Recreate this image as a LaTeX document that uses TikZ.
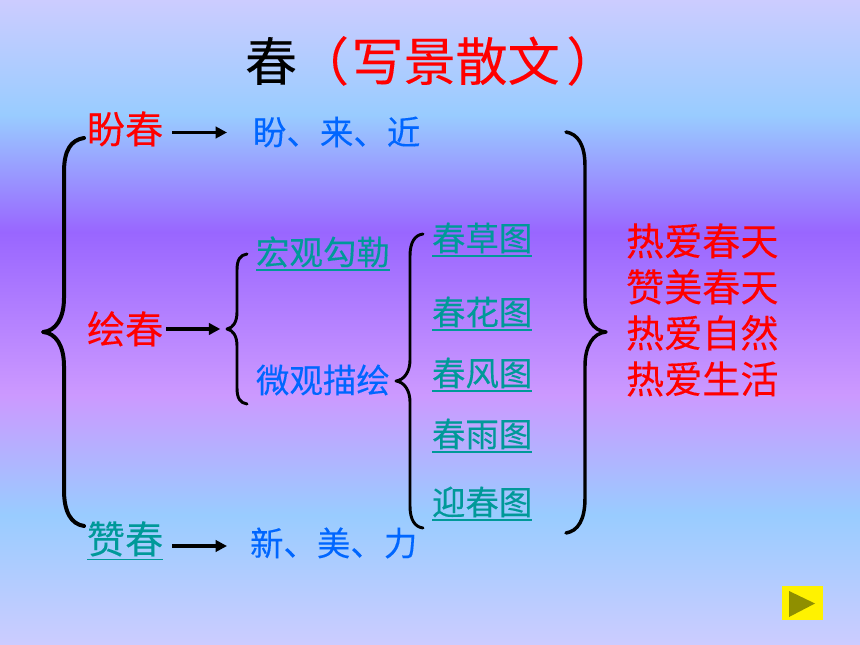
\documentclass[tikz,border=0pt]{standalone}
\usepackage{fontspec}
\setmainfont{Noto Sans CJK SC}[FakeBold=0.15]
\usetikzlibrary{calc,arrows.meta}
\definecolor{redtxt}{HTML}{FF0000}
\definecolor{bluetxt}{HTML}{0066FF}
\definecolor{tealtxt}{HTML}{009999}
\definecolor{bgA}{HTML}{CCCCFF}
\definecolor{bgB}{HTML}{99CCFF}
\definecolor{bgC}{HTML}{CC99FF}
\definecolor{bgD}{HTML}{9966FF}
\definecolor{olivebtn}{HTML}{8F8F00}
\pgfdeclareverticalshading{skybg}{100bp}{
  color(0bp)=(bgA);
  color(25bp)=(bgA);
  color(35.1bp)=(bgB);
  color(44.4bp)=(bgC);
  color(57bp)=(bgD);
  color(66.1bp)=(bgB);
  color(75bp)=(bgA);
  color(100bp)=(bgA)}
\tikzset{
  x=0.75pt,y=-0.75pt,
  txt/.style={anchor=west,inner sep=0pt,outer sep=0pt},
  bigtxt/.style={txt,font=\fontsize{28.6pt}{30pt}\selectfont,text height=25.1pt,text depth=3.5pt},
  smalltxt/.style={txt,font=\fontsize{25.1pt}{27pt}\selectfont,text height=22.1pt,text depth=3pt},
  titletxt/.style={txt,font=\fontsize{39pt}{42pt}\selectfont,text height=34.3pt,text depth=4.7pt},
  ul/.style={append after command={
    ([yshift=-1pt]\tikzlastnode.south west) edge[draw=tealtxt,line width=1.1pt] ([yshift=-1pt]\tikzlastnode.south east)}},
  bracel/.style={draw=black,line width=#1,line cap=round,line join=round},
  arr/.style={draw=black,line width=2.3pt,-{Triangle[length=8.5pt,width=8.5pt]}},
}
\begin{document}
\begin{tikzpicture}
\useasboundingbox (0,0) rectangle (860,645);
\shade[shading=skybg] (0,0) rectangle (860,645);

% title
\node[titletxt] (title) at (245,61) {春\textcolor{redtxt}{（\hspace{2pt}写景散文\hspace{5pt}）}};

% left column
\node[bigtxt,text=redtxt] (pan) at (87,129) {盼春};
\node[bigtxt,text=redtxt] (hui) at (87,329) {绘春};
\node[bigtxt,text=tealtxt,ul] (zan) at (87,539) {赞春};

% second column
\node[smalltxt,text=bluetxt] (panitems) at (253,132) {盼、来、近};
\node[smalltxt,text=bluetxt] (xinitems) at (250,543) {新、美、力};
\node[smalltxt,text=tealtxt,ul] (hong) at (256,252) {宏观勾勒};
\node[smalltxt,text=bluetxt] (wei) at (256,380) {微观描绘};

% scene column
\node[smalltxt,text=tealtxt,ul] (cao) at (432,238) {春草图};
\node[smalltxt,text=tealtxt,ul] (hua) at (432,312) {春花图};
\node[smalltxt,text=tealtxt,ul] (feng) at (432,373) {春风图};
\node[smalltxt,text=tealtxt,ul] (yu) at (432,434) {春雨图};
\node[smalltxt,text=tealtxt,ul] (ying) at (432,502) {迎春图};

% right column
\node[bigtxt,text=redtxt] (r1) at (626,241) {热爱春天};
\node[bigtxt,text=redtxt] (r2) at (626,287) {赞美春天};
\node[bigtxt,text=redtxt] (r3) at (626,333) {热爱自然};
\node[bigtxt,text=redtxt] (r4) at (626,379) {热爱生活};

% arrows
\draw[arr] ($(pan.east)+(9,3.5)$) -- ($(panitems.west)+(-26,0.5)$);
\draw[arr] ($(hui.east)+(3,0)$) -- ($(hui.east)+(57,0)$);
\draw[arr] ($(zan.east)+(9,7)$) -- ($(xinitems.west)+(-23,3)$);

% braces
\draw[bracel=3pt] (84,138) .. controls (71,140) and (64,150) .. (64,172)
  -- (64,298) .. controls (64,318) and (56,331) .. (43,332)
  .. controls (56,333) and (64,346) .. (64,366)
  -- (64,490) .. controls (64,512) and (71,524) .. (84,526);
\draw[bracel=2.2pt] (247,254) .. controls (240,255) and (237,260) .. (237,270)
  -- (237,312) .. controls (237,322) and (233,328) .. (227,329)
  .. controls (233,330) and (237,336) .. (237,346)
  -- (237,388) .. controls (237,398) and (240,403) .. (247,404);
\draw[bracel=2.2pt] (423,234) .. controls (415,235) and (410,242) .. (410,256)
  -- (410,360) .. controls (410,372) and (404,380) .. (396,381)
  .. controls (404,382) and (410,390) .. (410,402)
  -- (410,506) .. controls (410,520) and (415,527) .. (423,528);
\draw[bracel=2.6pt] (566,132) .. controls (578,134) and (585,145) .. (585,166)
  -- (585,298) .. controls (585,318) and (593,331) .. (606,332)
  .. controls (593,333) and (585,346) .. (585,366)
  -- (585,498) .. controls (585,520) and (578,531) .. (566,533);

% play button
\fill[yellow] (782,586) rectangle (823,620);
\fill[olivebtn] (789,591) -- (815,603.5) -- (789,617) -- cycle;
\end{tikzpicture}
\end{document}
